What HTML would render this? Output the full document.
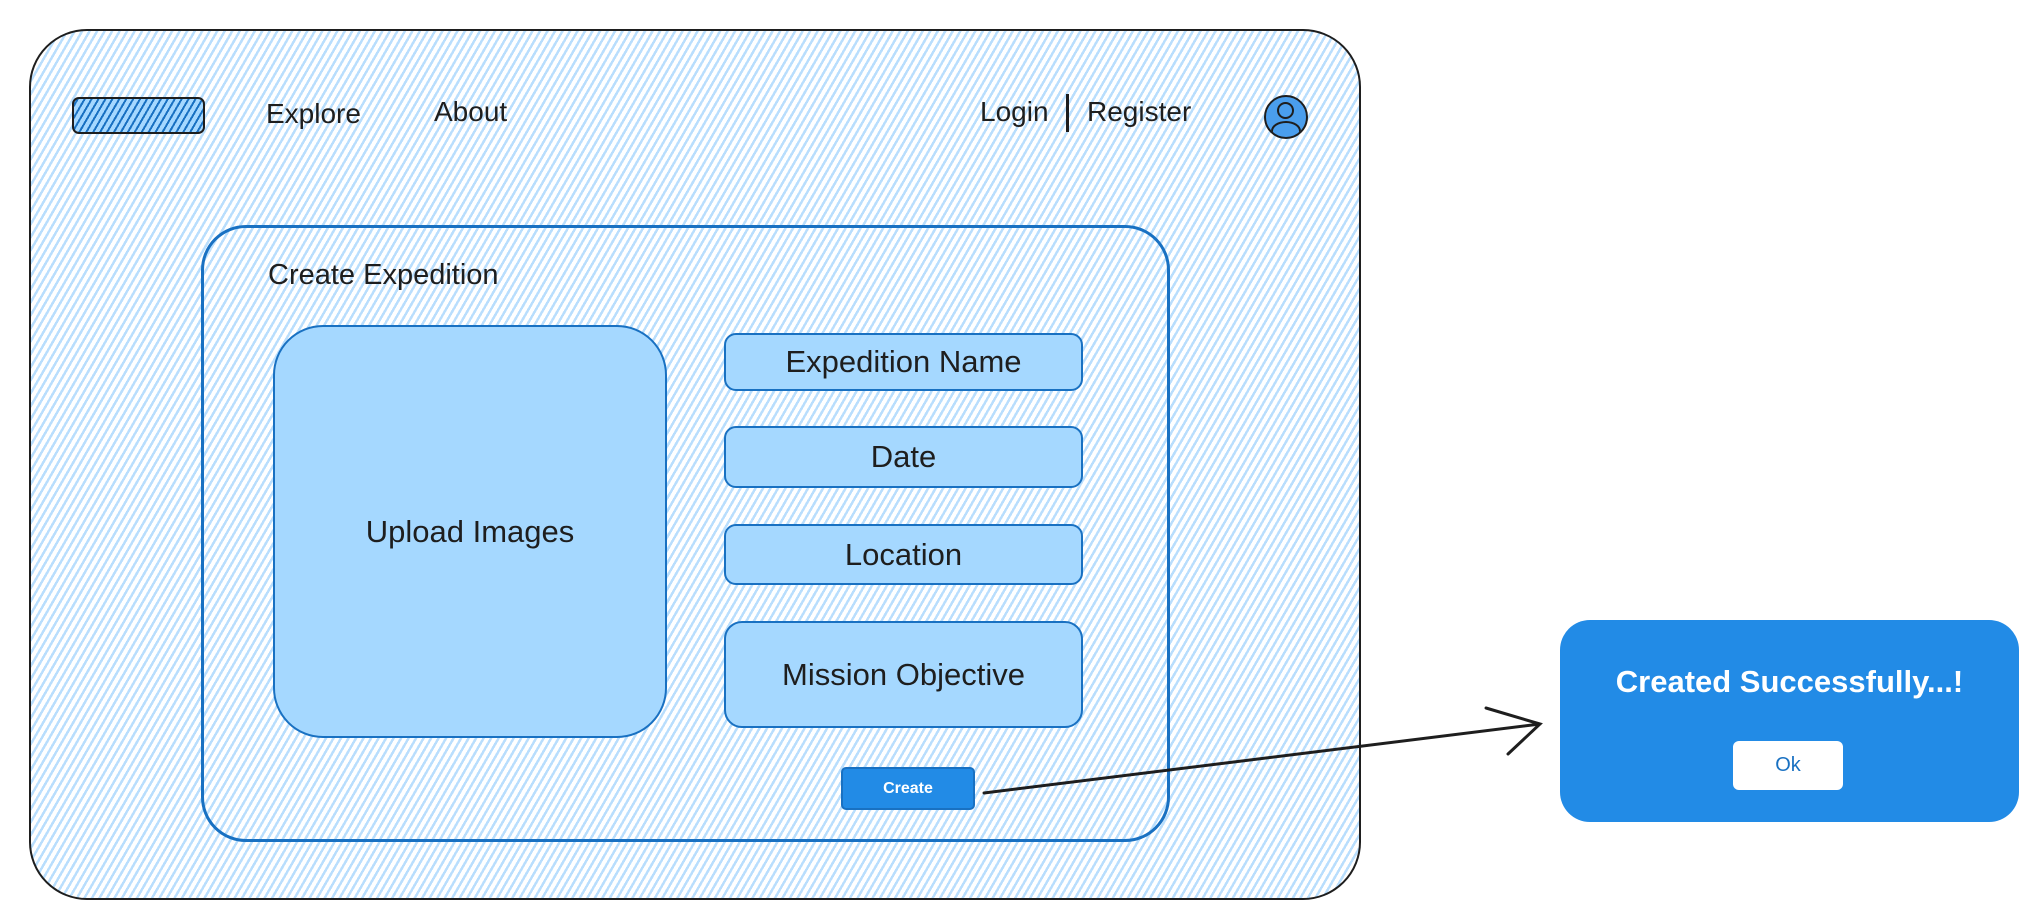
<!DOCTYPE html>
<html><head><style>
html,body{margin:0;padding:0;background:#fff;}
body{width:2038px;height:921px;position:relative;overflow:hidden;font-family:"Liberation Sans",sans-serif;color:#1e1e1e;}
.abs{position:absolute;box-sizing:border-box;}
.hatch{background:repeating-linear-gradient(-60deg,#fff 0 4px,#b9defd 4px 6.5px);}
.t{position:absolute;font-size:28px;white-space:nowrap;}
.field{background:#a5d8ff;border:2.5px solid #1971c2;border-radius:12px;display:flex;align-items:center;justify-content:center;font-size:31px;}
</style></head><body>
<div class="abs hatch" style="left:29px;top:29px;width:1332px;height:871px;border:2.5px solid #1e1e1e;border-radius:58px;"></div>
<div class="abs" style="left:72px;top:97px;width:133px;height:37px;border:2.5px solid #1e1e1e;border-radius:7px;background:repeating-linear-gradient(-60deg,#a5d8ff 0 4px,#1971c2 4px 6px);"></div>
<div class="t" style="left:266px;top:98px;">Explore</div>
<div class="t" style="left:434px;top:96px;">About</div>
<div class="t" style="left:980px;top:96px;">Login</div>
<div class="abs" style="left:1066px;top:94px;width:3px;height:38px;background:#1e1e1e;"></div>
<div class="t" style="left:1087px;top:96px;">Register</div>
<div class="abs" style="left:1264px;top:95px;width:44px;height:44px;border-radius:50%;background:#4a9eed;border:2.5px solid #1e1e1e;overflow:hidden;">
 <div class="abs" style="left:11px;top:5px;width:17px;height:17px;border-radius:50%;border:2.5px solid #1e1e1e;"></div>
 <div class="abs" style="left:5px;top:24px;width:30px;height:20px;border-radius:50% 50% 0 0;border:2.5px solid #1e1e1e;"></div>
</div>
<div class="abs hatch" style="left:201px;top:225px;width:969px;height:617px;border:3px solid #1971c2;border-radius:45px;"></div>
<div class="t" style="left:268px;top:259px;font-size:29px;">Create Expedition</div>
<div class="abs field" style="left:273px;top:325px;width:394px;height:413px;border-radius:50px;">Upload Images</div>
<div class="abs field" style="left:724px;top:333px;width:359px;height:58px;">Expedition Name</div>
<div class="abs field" style="left:724px;top:426px;width:359px;height:62px;">Date</div>
<div class="abs field" style="left:724px;top:524px;width:359px;height:61px;">Location</div>
<div class="abs field" style="left:724px;top:621px;width:359px;height:107px;border-radius:18px;">Mission Objective</div>
<div class="abs" style="left:841px;top:767px;width:134px;height:43px;background:#228be6;border:2px solid #1971c2;border-radius:5px;color:#fff;font-size:16px;font-weight:bold;display:flex;align-items:center;justify-content:center;">Create</div>
<svg class="abs" style="left:0;top:0;" width="2038" height="921">
<path d="M984 793 L1540 724 M1486 708 L1540 724 L1508 754" stroke="#1e1e1e" stroke-width="3" fill="none" stroke-linecap="round"/>
</svg>
<div class="abs" style="left:1560px;top:620px;width:459px;height:202px;background:#228be6;border-radius:30px;"></div>
<div class="t" style="left:1560px;top:664px;width:459px;text-align:center;color:#fff;font-size:31px;font-weight:bold;">Created Successfully...!</div>
<div class="abs" style="left:1733px;top:741px;width:110px;height:49px;background:#fff;border-radius:6px;color:#1971c2;font-size:20px;display:flex;align-items:center;justify-content:center;">Ok</div>
</body></html>
